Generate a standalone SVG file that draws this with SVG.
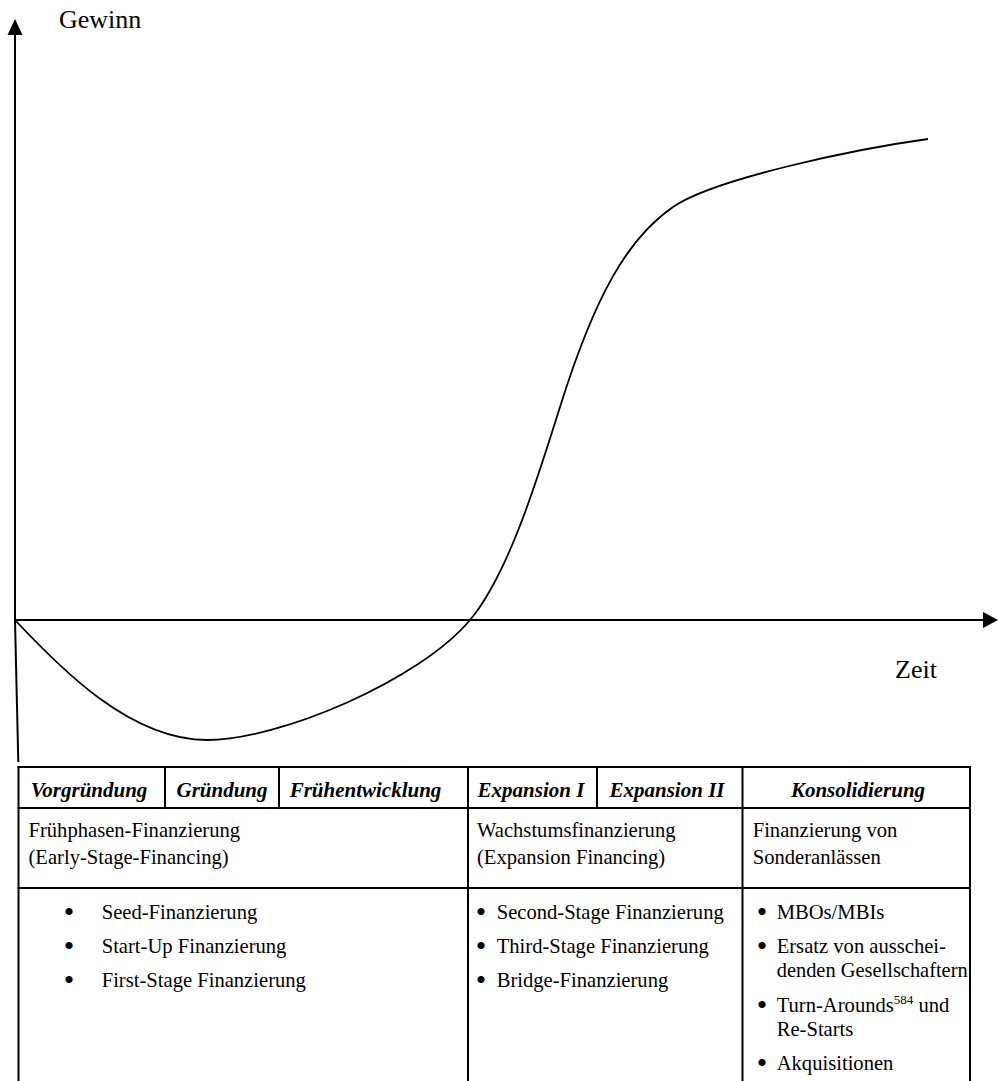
<svg xmlns="http://www.w3.org/2000/svg" width="998" height="1081" viewBox="0 0 998 1081">
<style>
  .ax { stroke:#000; stroke-width:2; fill:none; }
  .crv { stroke:#000; stroke-width:1.8; fill:none; }
  .tl { stroke:#000; stroke-width:2; fill:none; }
  .lbl { font-family:"Liberation Serif","Times New Roman",serif; font-size:26px; fill:#000; }
  .hd { font-family:"Liberation Serif","Times New Roman",serif; font-size:21px; font-weight:bold; font-style:italic; fill:#000; text-anchor:middle; }
  .tx { font-family:"Liberation Serif","Times New Roman",serif; font-size:20.6px; fill:#000; }
  .bu { font-family:"Liberation Serif","Times New Roman",serif; font-size:30px; fill:#000; text-anchor:middle; }
</style>
<rect x="0" y="0" width="998" height="1081" fill="#fff"/>

<g id="axes">
  <line class="ax" x1="15" y1="34" x2="15" y2="620"/>
  <polygon points="15,19 7.5,35 22.5,35" fill="#000"/>
  <line class="ax" x1="15" y1="620" x2="984" y2="620"/>
  <polygon points="998,620 983,612 983,628" fill="#000"/>
  <line class="ax" x1="15" y1="620" x2="18.3" y2="762"/>
  <text class="lbl" x="59" y="28">Gewinn</text>
  <text class="lbl" x="895" y="678">Zeit</text>
</g>

<g id="curve">
  <path class="crv" d="M15,620 C60,668 130,740 207,740 C280,740 420,680 470,620 C510,572 540,470 560,407 C595,295 628,238 673,207 C713,179 855,149 928,139"/>
</g>

<g id="table">
  <g id="table-lines">
    <line class="tl" x1="17.5" y1="767" x2="971" y2="767"/>
    <line class="tl" x1="17.5" y1="808" x2="971" y2="808"/>
    <line class="tl" x1="17.5" y1="888" x2="971" y2="888"/>
    <line class="tl" x1="18.5" y1="766" x2="18.5" y2="1081"/>
    <line class="tl" x1="165" y1="767" x2="165" y2="808"/>
    <line class="tl" x1="279" y1="767" x2="279" y2="808"/>
    <line class="tl" x1="468" y1="767" x2="468" y2="1081"/>
    <line class="tl" x1="597" y1="767" x2="597" y2="808"/>
    <line class="tl" x1="742.5" y1="767" x2="742.5" y2="1081"/>
    <line class="tl" x1="970" y1="766" x2="970" y2="1081"/>
  </g>
  <g id="header-row">
    <text class="hd" x="89" y="797">Vorgründung</text>
    <text class="hd" x="222" y="797">Gründung</text>
    <text class="hd" x="365.5" y="797">Frühentwicklung</text>
    <text class="hd" x="531" y="797">Expansion I</text>
    <text class="hd" x="667" y="797">Expansion II</text>
    <text class="hd" x="858" y="797">Konsolidierung</text>
  </g>
  <g id="early-stage">
    <text class="tx" x="28.5" y="837">Frühphasen-Finanzierung</text>
    <text class="tx" x="28.5" y="864">(Early-Stage-Financing)</text>
    <text class="bu" x="69" y="922">•</text>
    <text class="tx" x="101.7" y="919">Seed-Finanzierung</text>
    <text class="bu" x="69" y="956">•</text>
    <text class="tx" x="101.7" y="953">Start-Up Finanzierung</text>
    <text class="bu" x="69" y="990">•</text>
    <text class="tx" x="101.7" y="987">First-Stage Finanzierung</text>
  </g>
  <g id="expansion">
    <text class="tx" x="477" y="837">Wachstumsfinanzierung</text>
    <text class="tx" x="477" y="864">(Expansion Financing)</text>
    <text class="bu" x="481" y="922">•</text>
    <text class="tx" x="496.7" y="919">Second-Stage Finanzierung</text>
    <text class="bu" x="481" y="956">•</text>
    <text class="tx" x="496.7" y="953">Third-Stage Finanzierung</text>
    <text class="bu" x="481" y="990">•</text>
    <text class="tx" x="496.7" y="987">Bridge-Finanzierung</text>
  </g>
  <g id="special">
    <text class="tx" x="752.7" y="837">Finanzierung von</text>
    <text class="tx" x="752.7" y="864">Sonderanlässen</text>
    <text class="bu" x="762" y="922">•</text>
    <text class="tx" x="776.7" y="919">MBOs/MBIs</text>
    <text class="bu" x="762" y="956">•</text>
    <text class="tx" x="776.7" y="953">Ersatz von ausschei-</text>
    <text class="tx" x="776.7" y="977" textLength="191" lengthAdjust="spacingAndGlyphs">denden Gesellschaftern</text>
    <text class="bu" x="762" y="1015">•</text>
    <text class="tx" x="776.7" y="1012">Turn-Arounds<tspan font-size="13" dy="-8">584</tspan><tspan dy="8"> und</tspan></text>
    <text class="tx" x="776.7" y="1036">Re-Starts</text>
    <text class="bu" x="762" y="1073">•</text>
    <text class="tx" x="776.7" y="1070">Akquisitionen</text>
  </g>
</g>
</svg>
